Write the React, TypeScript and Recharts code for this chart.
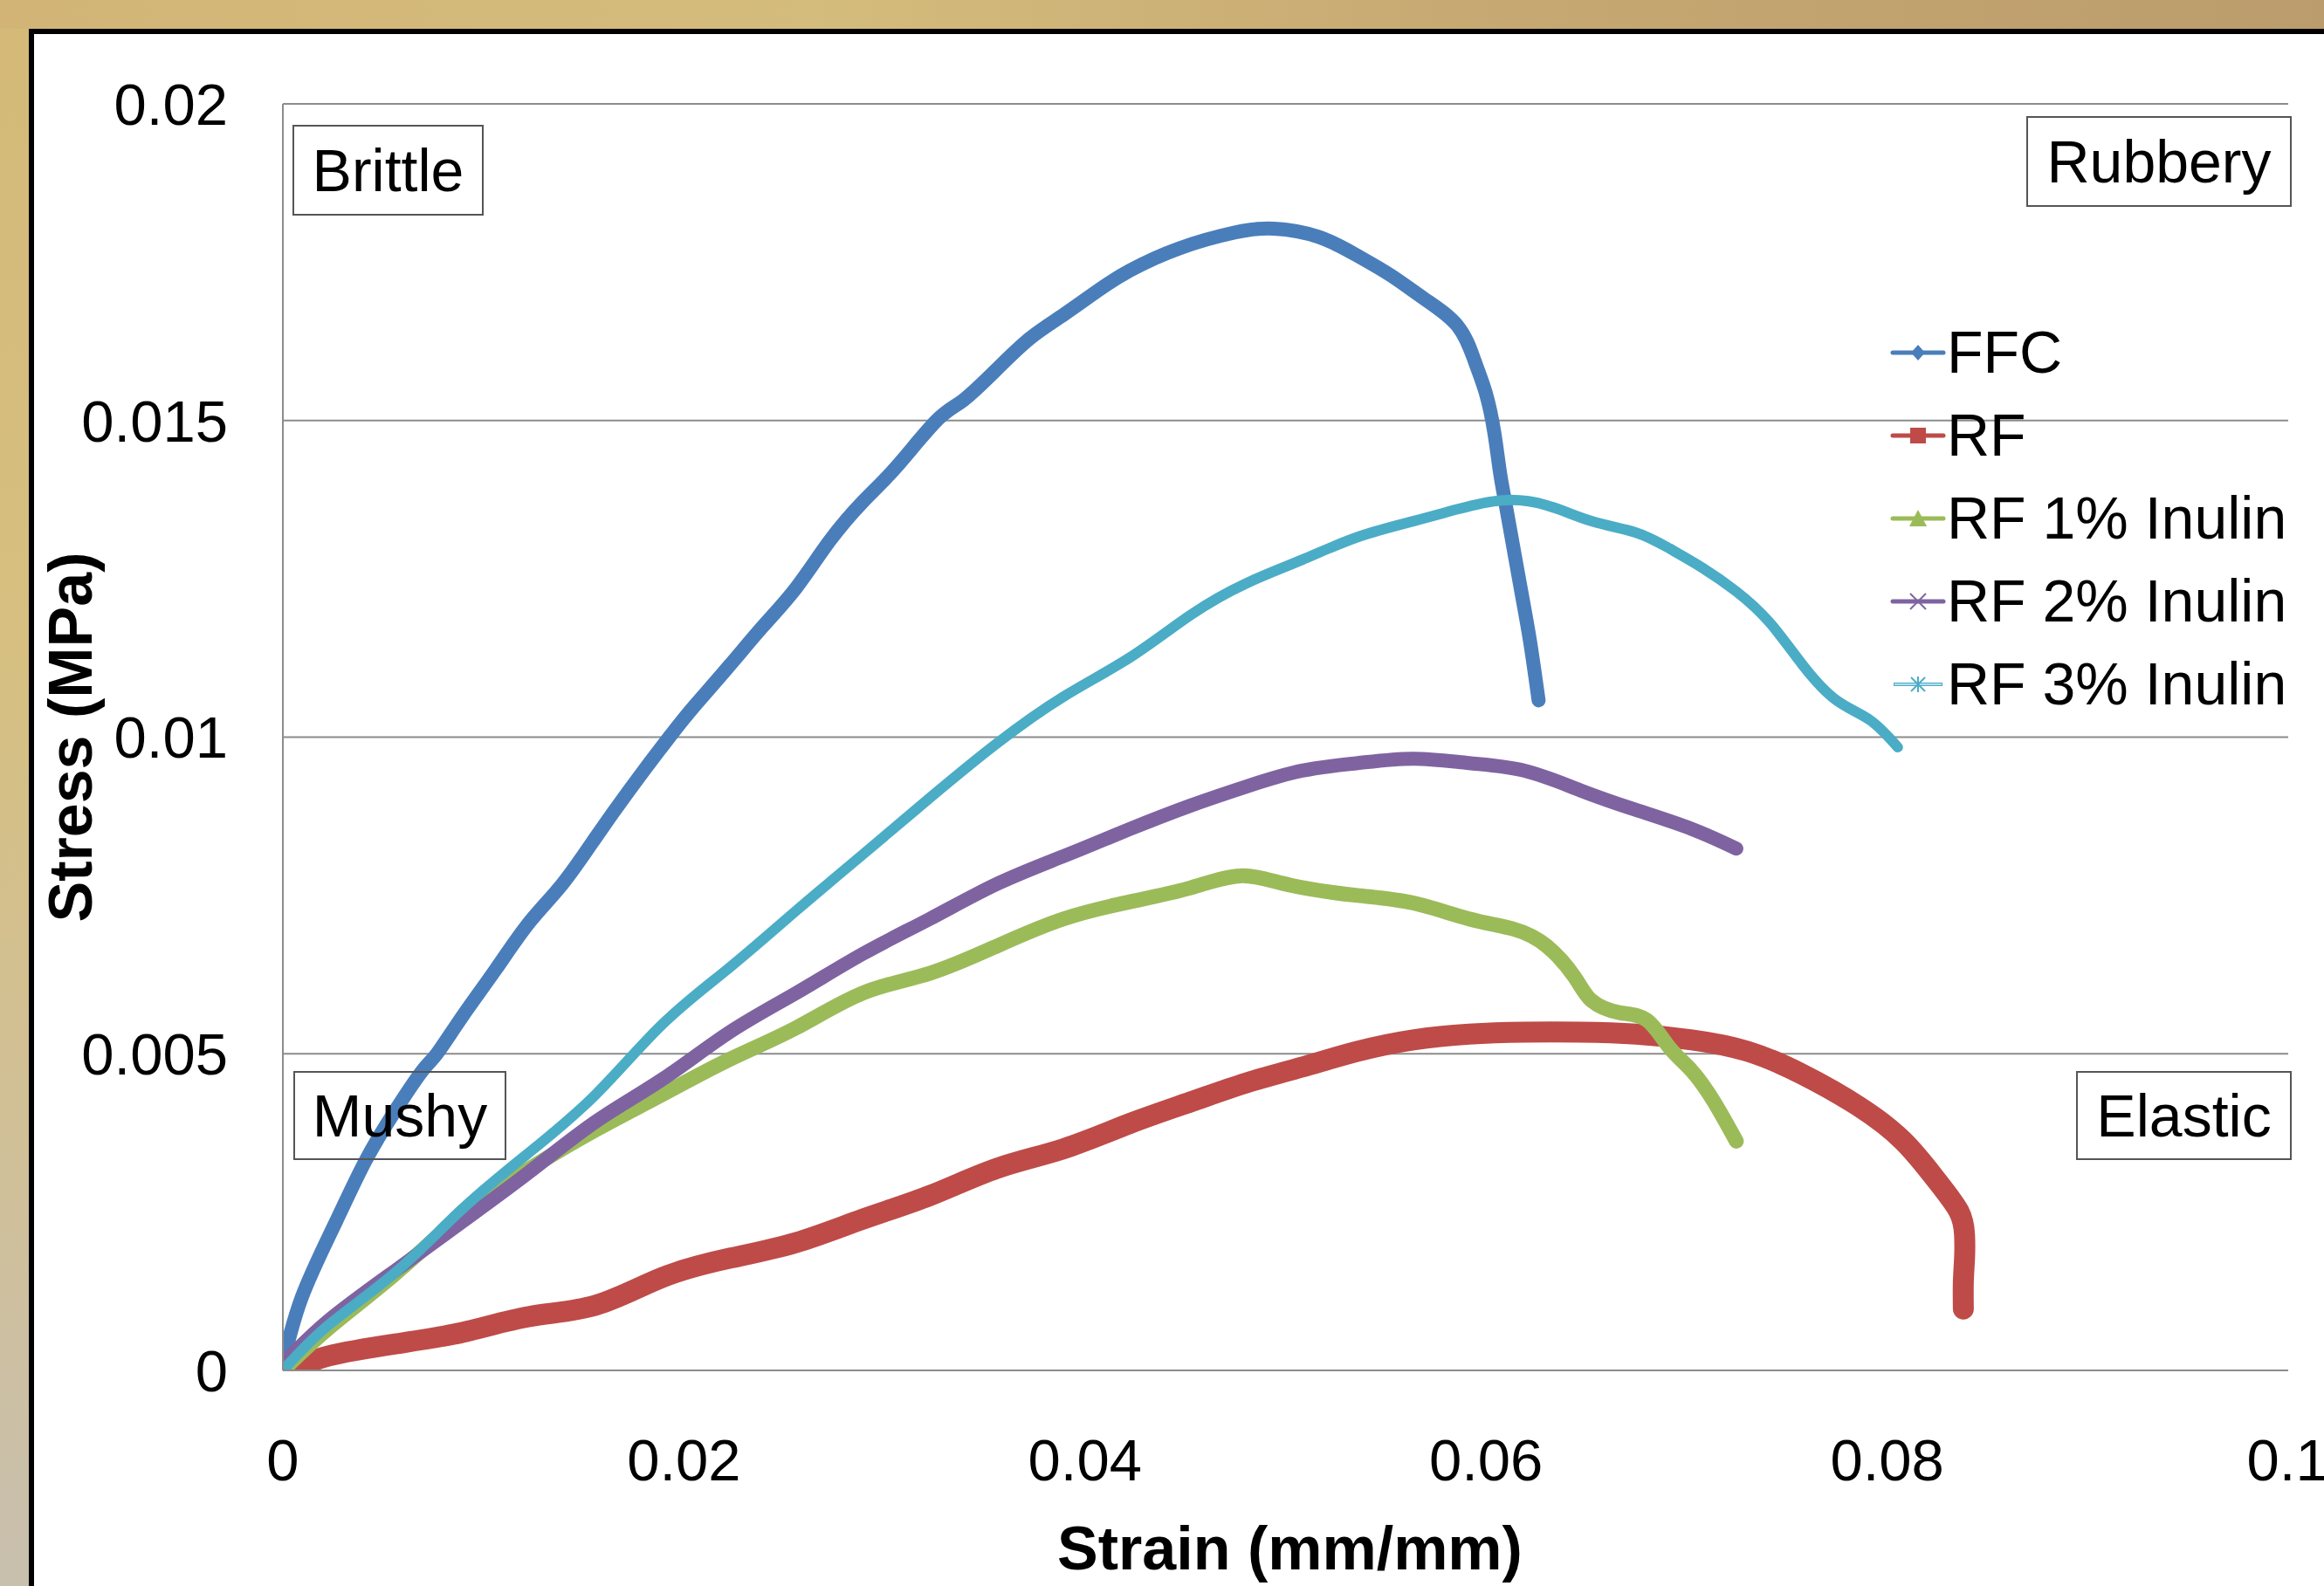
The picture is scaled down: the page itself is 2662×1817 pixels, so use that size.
import React from "react";
import { LineChart, Line, XAxis, YAxis, CartesianGrid, Legend, Label } from "recharts";

const FONT = '"Liberation Sans", Arial, sans-serif';

const strainTicks = [0, 0.02, 0.04, 0.06, 0.08, 0.1];
const stressTicks = [0, 0.005, 0.01, 0.015, 0.02];

// [strain, stress]
const ffc = [
  [0, 0.0001], [0.00095, 0.00116], [0.00262, 0.00233], [0.00412, 0.00331], [0.00562, 0.00411],
  [0.00695, 0.00473], [0.00768, 0.005], [0.00895, 0.00559], [0.01061, 0.00633], [0.01228, 0.00707],
  [0.01394, 0.00768], [0.01561, 0.00842], [0.01727, 0.00916], [0.01927, 0.01], [0.0206, 0.01052],
  [0.02227, 0.01113], [0.02394, 0.01175], [0.0256, 0.01236], [0.02727, 0.0131], [0.02893, 0.01372],
  [0.0306, 0.01427], [0.0326, 0.015], [0.03393, 0.01532], [0.0356, 0.01581], [0.03726, 0.0163],
  [0.03893, 0.01667], [0.04059, 0.01704], [0.04225, 0.01737], [0.04471, 0.01772], [0.04749, 0.01797],
  [0.04943, 0.01803], [0.05165, 0.0179], [0.0536, 0.0176], [0.05526, 0.01729], [0.05693, 0.01692],
  [0.05859, 0.01649], [0.05943, 0.01594], [0.05998, 0.01544], [0.0604, 0.01483], [0.06068, 0.01421],
  [0.06095, 0.01372], [0.06137, 0.01298], [0.06179, 0.01224], [0.0622, 0.0115], [0.06262, 0.01058],
];

const rf = [
  [0.0008, 0.00003], [0.00229, 0.00023], [0.00562, 0.00042], [0.00895, 0.0006], [0.01228, 0.00085],
  [0.01561, 0.00103], [0.01894, 0.00147], [0.02227, 0.00177], [0.0256, 0.00202], [0.02893, 0.00239],
  [0.03226, 0.00276], [0.0356, 0.00319], [0.03893, 0.0035], [0.04225, 0.0039], [0.04527, 0.00424],
  [0.04805, 0.00454], [0.05082, 0.00479], [0.0536, 0.00504], [0.05637, 0.00522], [0.05915, 0.00531],
  [0.06193, 0.00534], [0.0647, 0.00534], [0.06748, 0.00531], [0.07026, 0.00522], [0.07303, 0.00504],
  [0.07581, 0.00467], [0.07858, 0.00417], [0.08081, 0.00362], [0.08247, 0.003], [0.08358, 0.00251],
  [0.08386, 0.00214], [0.08386, 0.00177], [0.0838, 0.0014], [0.0838, 0.00097],
];

const rf1 = [
  [0, 0], [0.00229, 0.00067], [0.00562, 0.00153], [0.00895, 0.00245], [0.01228, 0.00318],
  [0.01561, 0.0038], [0.01894, 0.00436], [0.02227, 0.00491], [0.0256, 0.00541], [0.02893, 0.00596],
  [0.03226, 0.00627], [0.0356, 0.0067], [0.03893, 0.00713], [0.04225, 0.0074], [0.04527, 0.00762],
  [0.04777, 0.00781], [0.05027, 0.00766], [0.0536, 0.0075], [0.05637, 0.00738], [0.05915, 0.00713],
  [0.06137, 0.00697], [0.06303, 0.0067], [0.06442, 0.00621], [0.06526, 0.00584], [0.06664, 0.00565],
  [0.06803, 0.00553], [0.06914, 0.0051], [0.07026, 0.00473], [0.07137, 0.00424], [0.07248, 0.00362],
];

const rf2 = [
  [0, 0.0001], [0.00229, 0.00079], [0.00562, 0.00158], [0.00895, 0.00235], [0.01228, 0.00313],
  [0.01561, 0.00393], [0.01894, 0.0046], [0.02227, 0.00534], [0.0256, 0.00596], [0.02893, 0.00658],
  [0.03226, 0.00713], [0.0356, 0.00768], [0.03893, 0.00812], [0.04225, 0.00855], [0.04527, 0.00892],
  [0.04805, 0.00922], [0.05082, 0.00947], [0.0536, 0.00959], [0.05637, 0.00966], [0.05915, 0.00959],
  [0.06193, 0.00947], [0.0647, 0.00916], [0.06748, 0.00885], [0.07026, 0.00855], [0.07248, 0.00824],
];

const rf3 = [
  [0, 0], [0.00229, 0.00072], [0.00562, 0.00155], [0.00895, 0.00255], [0.01228, 0.00344],
  [0.01561, 0.00436], [0.01894, 0.00547], [0.02227, 0.00636], [0.0256, 0.00726], [0.02893, 0.00815],
  [0.03226, 0.00904], [0.0356, 0.0099], [0.03893, 0.01064], [0.04225, 0.01126], [0.04527, 0.01193],
  [0.04805, 0.01243], [0.05082, 0.0128], [0.0536, 0.01316], [0.05637, 0.01341], [0.05859, 0.0136],
  [0.06081, 0.01374], [0.06303, 0.01366], [0.06526, 0.01341], [0.06748, 0.01323], [0.06914, 0.01298],
  [0.07081, 0.01267], [0.07248, 0.0123], [0.07414, 0.01181], [0.07581, 0.01113], [0.07748, 0.01058],
  [0.07914, 0.01027], [0.08053, 0.00984],
];

const series = [
  { name: "FFC", color: "#4a7ebb", width: 16, marker: "diamond", points: ffc },
  { name: "RF", color: "#be4b48", width: 24, marker: "square", points: rf },
  { name: "RF 1% Inulin", color: "#9bbb59", width: 17, marker: "triangle", points: rf1 },
  { name: "RF 2% Inulin", color: "#7f63a1", width: 16, marker: "cross", points: rf2 },
  { name: "RF 3% Inulin", color: "#4bacc6", width: 12, marker: "star", points: rf3 },
];

const toRows = (pts: number[][]) => pts.map(([strain, stress]) => ({ strain, stress }));

function Marker({ kind, color }: { kind: string; color: string }) {
  const c = 32, m = 15;
  if (kind === "diamond") return <polygon points={`${c},${m - 9} ${c + 8},${m} ${c},${m + 9} ${c - 8},${m}`} fill={color} />;
  if (kind === "square") return <rect x={c - 9} y={m - 9} width={18} height={18} fill={color} />;
  if (kind === "triangle") return <polygon points={`${c},${m - 10} ${c + 10},${m + 9} ${c - 10},${m + 9}`} fill={color} />;
  if (kind === "cross")
    return (
      <g stroke={color} strokeWidth={2}>
        <line x1={c - 9} y1={m - 9} x2={c + 9} y2={m + 9} />
        <line x1={c - 9} y1={m + 9} x2={c + 9} y2={m - 9} />
      </g>
    );
  return (
    <g stroke={color} strokeWidth={2}>
      <line x1={c - 8} y1={m - 8} x2={c + 8} y2={m + 8} />
      <line x1={c - 8} y1={m + 8} x2={c + 8} y2={m - 8} />
      <line x1={c} y1={m - 9} x2={c} y2={m + 9} />
    </g>
  );
}

function LegendBox() {
  return (
    <div style={{ display: "flex", flexDirection: "column" }}>
      {series.map((s) => (
        <div key={s.name} style={{ height: 95, display: "flex", alignItems: "center" }}>
          <svg width={65} height={30} style={{ flex: "none" }}>
            {s.marker === "star" ? (
              <g>
                <line x1={4} y1={15} x2={60} y2={15} stroke={s.color} strokeWidth={4} />
                <line x1={5} y1={15} x2={59} y2={15} stroke="#d4eef5" strokeWidth={1.5} />
              </g>
            ) : (
              <line x1={3} y1={15} x2={61} y2={15} stroke={s.color} strokeWidth={5} strokeLinecap="round" />
            )}
            <Marker kind={s.marker} color={s.color} />
          </svg>
          <span style={{ fontFamily: FONT, fontSize: 68, color: "#000", lineHeight: "95px", whiteSpace: "nowrap" }}>
            {s.name}
          </span>
        </div>
      ))}
    </div>
  );
}

const YTitle = (props: any) => {
  const vb = props.viewBox || { x: 100, y: 119, width: 224, height: 1451 };
  const cx = 81;
  const cy = vb.y + vb.height / 2;
  return (
    <text x={cx} y={cy} transform={`rotate(-90 ${cx} ${cy})`} textAnchor="middle" dominantBaseline="central"
      fontFamily={FONT} fontSize={70} fontWeight="bold" fill="#000">
      Stress (MPa)
    </text>
  );
};

const XTitle = (props: any) => {
  const vb = props.viewBox || { x: 324, y: 1570, width: 2297, height: 247 };
  return (
    <text x={vb.x + vb.width / 2 + 5} y={vb.y + 228} textAnchor="middle"
      fontFamily={FONT} fontSize={70} fontWeight="bold" fill="#000">
      Strain (mm/mm)
    </text>
  );
};

const regions = [
  { text: "Brittle", left: 335, top: 143, width: 219, height: 104 },
  { text: "Rubbery", left: 2321, top: 133, width: 304, height: 104 },
  { text: "Mushy", left: 336, top: 1227, width: 244, height: 102 },
  { text: "Elastic", left: 2378, top: 1227, width: 247, height: 102 },
];

export default function App() {
  return (
    <div style={{ position: "fixed", left: 0, top: 0, width: 2662, height: 1817, overflow: "hidden",
      background: "linear-gradient(180deg, #d4b978 0%, #d6bf80 40%, #d0c09a 75%, #c8bfae 100%)" }}>
      <div style={{ position: "absolute", left: 0, top: 0, width: "100%", height: 33,
        background: "linear-gradient(90deg, #d2b576 0%, #d4bc7c 35%, #c6a872 65%, #bb9c6c 100%)" }} />
      <div style={{ position: "absolute", left: 33, top: 33, right: -20, bottom: -20, background: "#fff",
        borderLeft: "6px solid #000", borderTop: "6px solid #000" }} />
      <div style={{ position: "absolute", left: 0, top: 0 }}>
        <LineChart width={2662} height={1817} margin={{ top: 119, right: 41, bottom: 0, left: 100 }}>
          <CartesianGrid vertical={false} stroke="#8c8c8c" strokeWidth={2} />
          <XAxis dataKey="strain" type="number" domain={[0, 0.1]} ticks={strainTicks} height={247}
            tickSize={0} tickMargin={78} tickLine={false} axisLine={{ stroke: "#8c8c8c", strokeWidth: 2 }}
            tick={{ fill: "#000", fontSize: 67, fontFamily: FONT }} allowDataOverflow>
            <Label content={XTitle} />
          </XAxis>
          <YAxis type="number" domain={[0, 0.02]} ticks={stressTicks} width={224}
            tickSize={0} tickMargin={63} tickLine={false} axisLine={{ stroke: "#8c8c8c", strokeWidth: 2 }}
            tick={{ fill: "#000", fontSize: 67, fontFamily: FONT }} allowDataOverflow>
            <Label content={YTitle} />
          </YAxis>
          <Legend layout="vertical" align="center" verticalAlign="middle"
            wrapperStyle={{ left: 2165, top: 356, width: 480 }} content={() => <LegendBox />} />
          {series.map((s) => (
            <Line key={s.name} data={toRows(s.points)} dataKey="stress" name={s.name} type="natural"
              stroke={s.color} strokeWidth={s.width} strokeLinejoin="round" strokeLinecap="round"
              dot={false} activeDot={false} isAnimationActive={false} />
          ))}
        </LineChart>
      </div>
      {regions.map((r) => (
        <div key={r.text} style={{ position: "absolute", left: r.left, top: r.top, width: r.width, height: r.height,
          boxSizing: "border-box", border: "2px solid #555", display: "flex", alignItems: "center",
          justifyContent: "center", fontFamily: FONT, fontSize: 68, color: "#000" }}>
          {r.text}
        </div>
      ))}
    </div>
  );
}
